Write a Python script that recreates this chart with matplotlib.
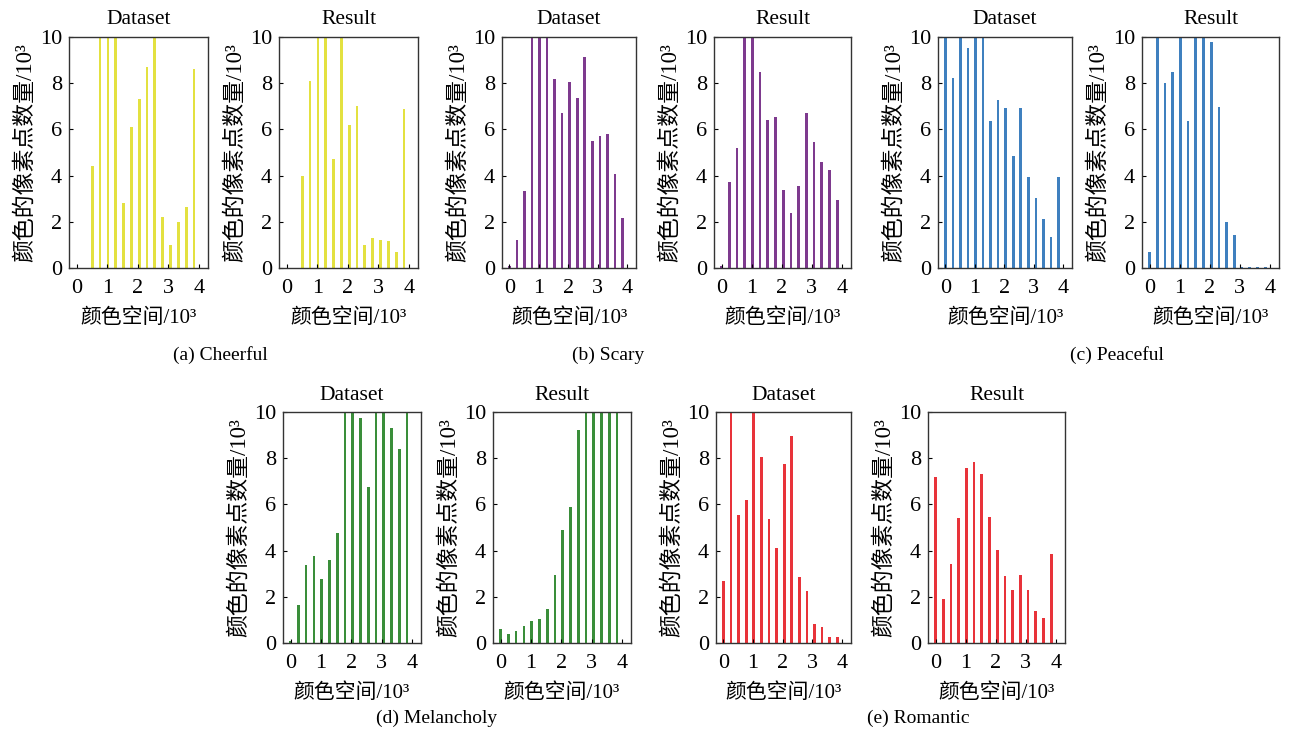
import numpy as np
import matplotlib
matplotlib.use("Agg")
import matplotlib.pyplot as plt

# ---------------- data (counts in 10^3, x in 10^3 colour-space units) ----------------
color_bins = np.arange(16) * 256 / 1000.0   # 16 colour bins over 0..4096

cheerful_dataset = [0.0, 0.0, 4.4, 12.0, 12.0, 12.0, 2.8, 6.1, 7.3, 8.7, 12.0, 2.2, 1.0, 2.0, 2.65, 8.6]
cheerful_result = [0.0, 0.0, 4.0, 8.1, 12.0, 12.0, 4.7, 12.0, 6.2, 7.0, 1.0, 1.3, 1.2, 1.15, 0.7, 6.9]

scary_dataset = [0.1, 1.2, 3.35, 12.0, 12.0, 12.0, 8.2, 6.7, 8.05, 7.35, 9.15, 5.5, 5.7, 5.8, 4.07, 2.15]
scary_result = [0.1, 3.73, 5.2, 12.0, 12.0, 8.5, 6.4, 6.55, 3.37, 2.39, 3.55, 6.7, 5.47, 4.6, 4.24, 2.94]

peaceful_dataset = [12.0, 8.22, 12.0, 9.52, 12.0, 12.0, 6.38, 7.28, 6.92, 4.85, 6.92, 3.95, 3.05, 2.14, 1.35, 3.92]
peaceful_result = [0.7, 12.0, 8.0, 8.5, 12.0, 6.38, 12.0, 12.0, 9.8, 6.96, 2.0, 1.45, 0.05, 0.05, 0.05, 0.05]

melancholy_dataset = [0.1, 1.64, 3.37, 3.76, 2.79, 3.59, 4.75, 12.0, 12.0, 9.74, 6.77, 12.0, 12.0, 9.3, 8.4, 12.0]
melancholy_result = [0.62, 0.4, 0.5, 0.74, 0.95, 1.06, 1.49, 2.94, 4.89, 5.9, 9.23, 12.0, 12.0, 12.0, 12.0, 12.0]

romantic_dataset = [2.69, 12.0, 5.54, 6.19, 12.0, 8.07, 5.37, 4.1, 7.74, 8.94, 2.87, 2.24, 0.84, 0.7, 0.26, 0.26]
romantic_result = [7.2, 1.9, 3.4, 5.4, 7.57, 7.83, 7.31, 5.44, 4.02, 2.89, 2.31, 2.94, 2.28, 1.39, 1.1, 3.85]

panel_titles = ["Dataset", "Result"]
captions = ["(a) Cheerful", "(b) Scary", "(c) Peaceful", "(d) Melancholy", "(e) Romantic"]
x_ticks = [0, 1, 2, 3, 4]
y_ticks = [0, 2, 4, 6, 8, 10]
x_label = "颜色空间/10³"
y_label = "颜色的像素点数量/10³"

# ---------------- layout / style ----------------
W, H = 1289, 732
fig = plt.figure(figsize=(W / 100, H / 100), dpi=100)
fig.patch.set_facecolor("white")

serif = ["Liberation Serif", "Noto Sans CJK SC", "DejaVu Sans"]
plt.rcParams["font.family"] = serif

# axes rectangles in pixels: (left, right), (top, bottom)
top_row = (37, 268)
bot_row = (412, 643)
panels = [
    (cheerful_dataset, "#E3E140", (69, 208), top_row, 0),
    (cheerful_result, "#E3E140", (279, 418), top_row, 1),
    (scary_dataset, "#7E3A8E", (502, 636), top_row, 0),
    (scary_result, "#7E3A8E", (714, 851), top_row, 1),
    (peaceful_dataset, "#3F80BF", (938, 1072), top_row, 0),
    (peaceful_result, "#3F80BF", (1142, 1279), top_row, 1),
    (melancholy_dataset, "#3A8E3A", (283, 421), bot_row, 0),
    (melancholy_result, "#3A8E3A", (493, 631), bot_row, 1),
    (romantic_dataset, "#E8333A", (716, 851), bot_row, 0),
    (romantic_result, "#E8333A", (928, 1065), bot_row, 1),
]

for vals, col, (l, r), (t, b), ti in panels:
    ax = fig.add_axes([l / W, 1 - b / H, (r - l) / W, (b - t) / H])
    ax.bar(color_bins, vals, width=0.09, color=col, edgecolor="none")
    ax.set_xlim(-0.25, 4.3)
    ax.set_ylim(0, 10)
    ax.set_xticks(x_ticks)
    ax.set_yticks(y_ticks)
    ax.tick_params(direction="in", length=3, width=0.8, labelsize=16)
    ax.tick_params(axis="x", pad=8)
    ax.tick_params(axis="y", pad=5)
    for lab in ax.get_xticklabels() + ax.get_yticklabels():
        lab.set_family(serif)
    for s in ax.spines.values():
        s.set_linewidth(1.0)
        s.set_color("#333333")
    ax.set_title(panel_titles[ti], fontsize=15.5, family=serif, pad=9)
    ax.set_xlabel(x_label, fontsize=15, family=serif, labelpad=7)
    ax.set_ylabel(y_label, fontsize=16.5, family=serif, labelpad=3)

caption_pos = [(220, 355), (608, 355), (1117, 355), (437, 718), (918, 718)]
for txt, (cx, cy) in zip(captions, caption_pos):
    fig.text(cx / W, 1 - cy / H, txt, ha="center", va="center", fontsize=14, family=serif)

fig.savefig("out.png", dpi=100, facecolor="white")
